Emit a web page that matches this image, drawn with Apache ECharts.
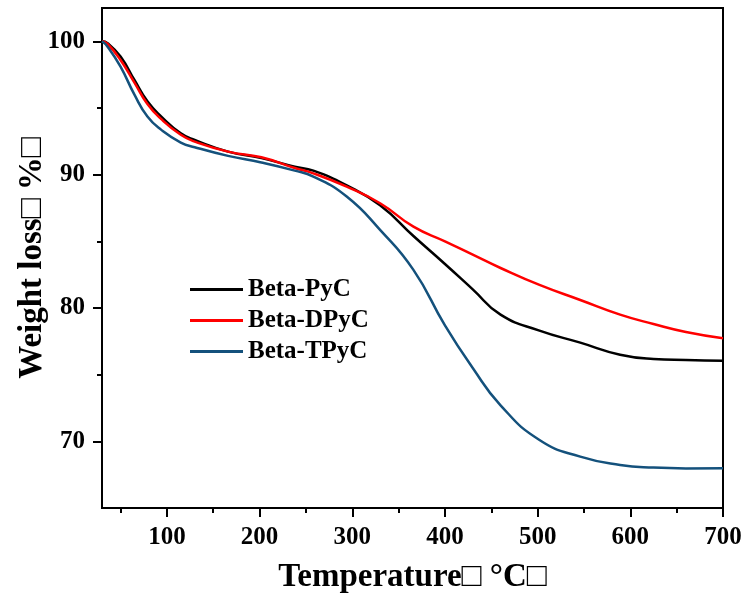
<!DOCTYPE html>
<html>
<head>
<meta charset="utf-8">
<script src="https://cdn.jsdelivr.net/npm/echarts@6/dist/echarts.min.js"></script>
<style>
  html, body { margin: 0; padding: 0; background: #fff; }
  #chart { width: 747px; height: 599px; }
</style>
</head>
<body>
<div id="chart"></div>
<script>
// 温度 (°C)
const temps = [30, 36, 50, 65, 79, 94, 115, 130, 166, 202, 238, 258, 294, 330, 366, 400, 430, 460, 502, 546, 589, 625, 660, 700]
const seriesNames = ['Beta-PyC', 'Beta-DPyC', 'Beta-TPyC']
const pycLoss = [100, 99.86, 98.86, 97.1, 95.5, 94.36, 93.1, 92.6, 91.73, 91.24, 90.6, 90.3, 89.2, 87.7, 85.4, 83.3, 81.4, 79.5, 78.3, 77.4, 76.5, 76.18, 76.1, 76.05]
const dpycLoss = [100, 99.8, 98.6, 96.9, 95.3, 94.16, 92.99, 92.48, 91.73, 91.3, 90.5, 90.1, 89.1, 87.86, 86.1, 85.0, 84.0, 83.0, 81.73, 80.6, 79.5, 78.8, 78.2, 77.73]
const tpycLoss = [100, 99.6, 98.1, 96.0, 94.36, 93.36, 92.41, 92.06, 91.41, 90.91, 90.3, 89.86, 88.36, 85.86, 82.86, 78.7, 75.5, 72.7, 70.1, 68.85, 68.23, 68.03, 67.97, 67.98]
// 刻度
const xMajorTicks = [100, 200, 300, 400, 500, 600, 700]
const xMinorTicks = [50, 150, 250, 350, 450, 550, 650]
const yMajorTicks = [70, 80, 90, 100]
const yMinorTicks = [75, 85, 95]

const colors = ['#000000', '#ff0000', '#14517c']
const font = '"Liberation Serif", "Times New Roman", serif'

const chart = echarts.init(document.getElementById('chart'))

const pair = arr => temps.map((t, i) => [t, arr[i]])
const lossData = [pycLoss, dpycLoss, tpycLoss]

const baseX = {
    type: 'value', min: 30, max: 700, position: 'bottom', gridIndex: 0,
    axisLine: { onZero: false, show: false },
    splitLine: { show: false },
    axisLabel: { show: false },
    axisTick: { show: false }
}
const baseY = {
    type: 'value', min: 65, max: 102.5, position: 'left', gridIndex: 0,
    axisLine: { onZero: false, show: false },
    splitLine: { show: false },
    axisLabel: { show: false },
    axisTick: { show: false }
}

chart.setOption({
    animation: false,
    grid: {
        left: 102, right: 24, top: 8, bottom: 91,
        show: true, borderColor: '#000', borderWidth: 2,
        outerBoundsMode: 'none'
    },
    legend: {
        data: seriesNames,
        orient: 'vertical',
        left: 185, top: 272,
        icon: 'rect',
        itemWidth: 53, itemHeight: 3, itemGap: 6,
        textStyle: { fontFamily: font, fontWeight: 'bold', fontSize: 25, color: '#000' }
    },
    xAxis: [
        Object.assign({}, baseX, {
            name: 'Temperature□ °C□',
            nameLocation: 'middle',
            nameGap: 53,
            nameMoveOverlap: false,
            nameTextStyle: { fontFamily: font, fontWeight: 'bold', fontSize: 33, color: '#000' },
            axisLine: { onZero: false, show: true, lineStyle: { color: '#000', width: 2 } },
            axisTick: { show: true, inside: false, length: 9, customValues: xMajorTicks, lineStyle: { color: '#000', width: 2 } },
            axisLabel: { show: true, margin: 17, customValues: xMajorTicks, fontFamily: font, fontWeight: 'bold', fontSize: 25, color: '#000' }
        }),
        Object.assign({}, baseX, {
            axisTick: { show: true, inside: false, length: 5, customValues: xMinorTicks, lineStyle: { color: '#000', width: 2 } }
        })
    ],
    yAxis: [
        Object.assign({}, baseY, {
            name: 'Weight loss□ %□',
            nameLocation: 'middle',
            nameGap: 53,
            nameMoveOverlap: false,
            nameTextStyle: { fontFamily: font, fontWeight: 'bold', fontSize: 33, color: '#000' },
            axisLine: { onZero: false, show: true, lineStyle: { color: '#000', width: 2 } },
            axisTick: { show: true, inside: false, length: 9, customValues: yMajorTicks, lineStyle: { color: '#000', width: 2 } },
            axisLabel: { show: true, margin: 17, customValues: yMajorTicks, fontFamily: font, fontWeight: 'bold', fontSize: 25, color: '#000' }
        }),
        Object.assign({}, baseY, {
            axisTick: { show: true, inside: false, length: 5, customValues: yMinorTicks, lineStyle: { color: '#000', width: 2 } }
        })
    ],
    series: seriesNames.map((name, i) => ({
        name: name,
        type: 'line',
        xAxisIndex: 0,
        yAxisIndex: 0,
        smooth: true,
        symbol: 'none',
        color: colors[i],
        lineStyle: { color: colors[i], width: 2.5 },
        data: pair(lossData[i])
    }))
})
</script>
</body>
</html>
